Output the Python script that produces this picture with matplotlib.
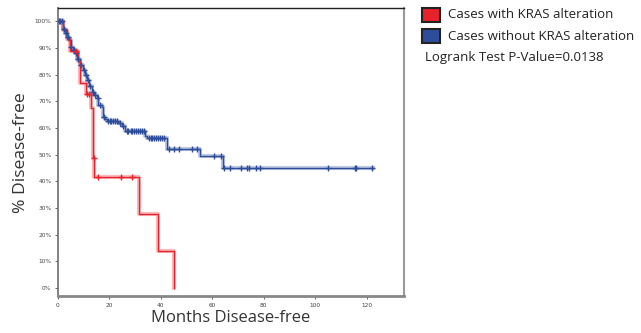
import numpy as np
import matplotlib
matplotlib.use("Agg")
import matplotlib.pyplot as plt
from matplotlib.patches import Rectangle

# Kaplan-Meier curves (months, % disease-free)
red_t = [0, 2.0, 3.7, 4.8, 7.8, 8.5, 10.9, 12.8, 13.8, 14.2, 31.6, 38.9, 45.2]
red_s = [100, 96.7, 93.3, 89.0, 85.0, 76.8, 72.7, 67.4, 48.8, 41.7, 27.8, 13.9, 0]
red_cens = [7.0, 11.5, 12.3, 14.0, 15.5, 24.6, 29.0]

blue_t = [0, 2.2, 2.8, 3.6, 4.5, 5.0, 5.8, 6.7, 7.6, 8.7, 9.7, 10.6, 11.5, 12.3,
          13.2, 14.1, 15.2, 15.8, 17.1, 17.7, 18.4, 19.0, 23.6, 24.9, 26.2, 33.9,
          34.8, 42.4, 55.3, 64.1, 122.5]
blue_s = [100, 97, 95.5, 94.3, 93, 90.5, 89.3, 88, 86, 83.7, 81.8, 80, 78, 75.6,
          73.7, 72.5, 71.2, 68.7, 67.8, 64.3, 63.3, 62.8, 61.8, 60.8, 58.8, 57.1,
          56.2, 52.0, 49.4, 45.2, 45.2]
blue_cens = [0.5, 1.0, 1.5, 2.5, 3.2, 4.0, 5.3, 6.2, 7.0, 8.0, 9.2, 10.2, 11.0,
             11.9, 12.7, 13.6, 14.6, 15.5, 16.4, 18.0, 19.5, 20.2, 20.8, 21.5,
             22.2, 23.0, 24.2, 25.5, 26.8, 27.5, 28.3, 29.0, 29.8, 30.5, 31.2,
             32.0, 32.8, 33.4, 35.4, 36.1, 36.8, 37.5, 38.2, 39.0, 39.8, 40.6,
             41.4, 43.4, 45.2, 47.0, 52.2, 54.0, 60.8, 63.3, 64.6, 66.9, 71.3,
             73.4, 74.4, 77.0, 78.8, 105.1, 115.5, 116.1, 122.2]

x_ticks = [0, 20, 40, 60, 80, 100, 120]
y_ticks = [0, 10, 20, 30, 40, 50, 60, 70, 80, 90, 100]

RED = "#e8222a"
BLUE = "#2e4c9c"

fig = plt.figure(figsize=(6.41, 3.33), dpi=100)
ax = fig.add_axes([0.090, 0.110, 0.540, 0.866])


def km(t, s, cens, color):
    ax.step(t, s, where="post", color=color, lw=3, alpha=0.3, zorder=2)
    ax.step(t, s, where="post", color=color, lw=1.0, zorder=3)
    idx = np.searchsorted(t, cens, side="right") - 1
    ax.plot(cens, np.array(s)[idx], ls="none", marker="+", ms=4, mew=1.0,
            color=color, zorder=4)


km(blue_t, blue_s, blue_cens, BLUE)
km(red_t, red_s, red_cens, RED)

ax.set_xlim(0, 134.5)
ax.set_ylim(-3.07, 105)
ax.set_xticks(x_ticks)
ax.set_yticks(y_ticks)
ax.set_yticklabels([f"{v}%" for v in y_ticks])
ax.tick_params(labelsize=4.2, length=2.5, width=0.6, colors="#444", pad=2)

ax.spines["left"].set_color("#777")
ax.spines["left"].set_linewidth(1.3)
ax.spines["bottom"].set_color("#888")
ax.spines["bottom"].set_linewidth(2)
ax.spines["top"].set_color("#222")
ax.spines["top"].set_linewidth(1)
ax.spines["right"].set_color("#999")
ax.spines["right"].set_linewidth(1.5)

ax.set_xlabel("Months Disease-free", family="Open Sans", fontsize=12,
              color="#333", labelpad=2)
ax.set_ylabel("% Disease-free", family="Open Sans", fontsize=12.6,
              color="#333", labelpad=4)

# legend drawn by hand in figure coordinates
W, H = 641, 333
for i, (lab, col) in enumerate([("Cases with KRAS alteration", RED),
                                ("Cases without KRAS alteration", BLUE)]):
    yt = 8 + i * 21
    fig.patches.append(Rectangle((422 / W, 1 - (yt + 14) / H), 18 / W, 14 / H,
                                 transform=fig.transFigure, facecolor=col,
                                 edgecolor="#222", lw=1.5))
    fig.text(448 / W, 1 - (yt + 7) / H, lab, family="Open Sans", fontsize=9.5,
             color="#222", va="center")
fig.text(425 / W, 1 - 58 / H, "Logrank Test P-Value=0.0138", family="Open Sans",
         fontsize=9.5, color="#222", va="center")

fig.savefig("out.png", dpi=100)
